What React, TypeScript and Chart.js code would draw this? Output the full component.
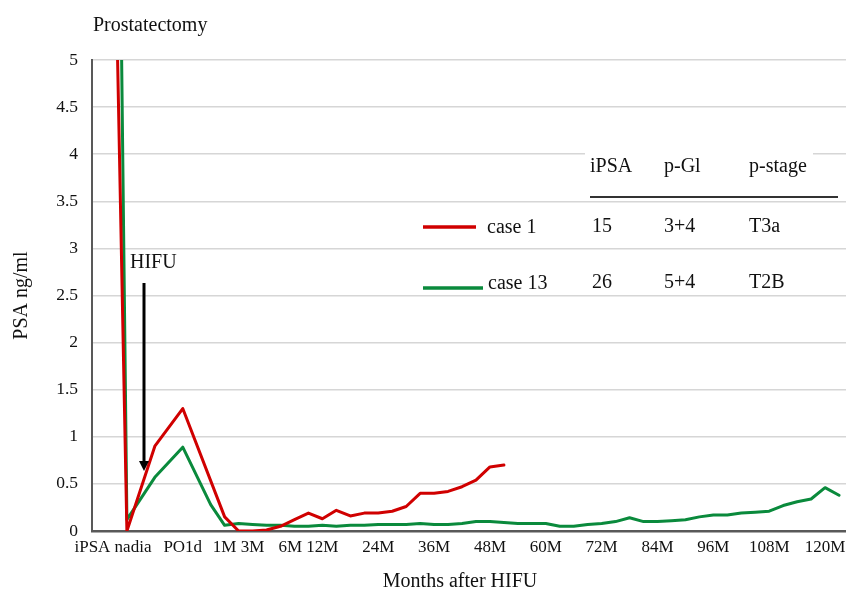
import React, { useEffect, useRef } from "react";
import { Chart, registerables } from "chart.js";

Chart.register(...registerables);

// ---- data ----
const slotCount = 54;
const tickLabels = ["iPSA nadia", "PO1d", "1M 3M", "6M 12M", "24M", "36M", "48M", "60M", "72M", "84M", "96M", "108M", "120M"];
const tickLabelSlots = [1, 6, 10, 15, 20, 24, 28, 32, 36, 40, 44, 48, 52];

const case1Values: (number | null)[] = [
  15, null, 0, null, 0.9, null, 1.3, null, null, 0.15,
  0, 0, 0.01, 0.05, 0.12, 0.19, 0.13, 0.22, 0.16, 0.19,
  0.19, 0.21, 0.26, 0.4, 0.4, 0.42, 0.47, 0.54, 0.68, 0.7,
];

const case13Values: (number | null)[] = [
  26, null, 0.12, null, 0.57, null, 0.89, null, 0.28, 0.06,
  0.08, 0.07, 0.06, 0.06, 0.05, 0.05, 0.06, 0.05, 0.06, 0.06,
  0.07, 0.07, 0.07, 0.08, 0.07, 0.07, 0.08, 0.1, 0.1, 0.09,
  0.08, 0.08, 0.08, 0.05, 0.05, 0.07, 0.08, 0.1, 0.14, 0.1,
  0.1, 0.11, 0.12, 0.15, 0.17, 0.17, 0.19, 0.2, 0.21, 0.27,
  0.31, 0.34, 0.46, 0.38,
];

const seriesNames = ["case 1", "case 13"];
const tableHeaders = ["iPSA", "p-Gl", "p-stage"];
const case1Table = ["15", "3+4", "T3a"];
const case13Table = ["26", "5+4", "T2B"];

const categories: string[] = Array.from({ length: slotCount }, () => "");
tickLabelSlots.forEach((slot, k) => {
  categories[slot] = tickLabels[k];
});

// ---- styles ----
const SERIF = "'Liberation Serif', 'Times New Roman', serif";
const TEXT = "#111111";
const RED = "#d00000";
const GREEN = "#0a8a3c";
const AXIS = "#595959";

const annotationPlugin = {
  id: "annotations",
  beforeDatasetsDraw(chart: any) {
    const ctx = chart.ctx as CanvasRenderingContext2D;
    // table header cell covering the gridline
    ctx.save();
    ctx.fillStyle = "#ffffff";
    ctx.fillRect(585, 150, 228, 8);
    ctx.restore();
  },
  afterDraw(chart: any) {
    const ctx = chart.ctx as CanvasRenderingContext2D;
    ctx.save();
    ctx.fillStyle = TEXT;
    ctx.textBaseline = "alphabetic";
    ctx.textAlign = "left";
    ctx.font = `20px ${SERIF}`;

    ctx.fillText("Prostatectomy", 93, 31);
    ctx.fillText("HIFU", 130, 268);

    // HIFU arrow
    ctx.strokeStyle = "#000";
    ctx.lineWidth = 3;
    ctx.beginPath();
    ctx.moveTo(144, 283);
    ctx.lineTo(144, 462);
    ctx.stroke();
    ctx.fillStyle = "#000";
    ctx.beginPath();
    ctx.moveTo(139, 461);
    ctx.lineTo(149, 461);
    ctx.lineTo(144, 471);
    ctx.closePath();
    ctx.fill();

    // x axis title
    ctx.fillStyle = TEXT;
    ctx.textAlign = "center";
    ctx.fillText("Months after HIFU", 460, 587);
    ctx.textAlign = "left";

    // legend / table
    ctx.lineCap = "butt";
    ctx.lineWidth = 3.5;
    ctx.strokeStyle = RED;
    ctx.beginPath();
    ctx.moveTo(423, 227);
    ctx.lineTo(476, 227);
    ctx.stroke();
    ctx.strokeStyle = GREEN;
    ctx.beginPath();
    ctx.moveTo(423, 288);
    ctx.lineTo(483, 288);
    ctx.stroke();

    ctx.fillStyle = TEXT;
    ctx.fillText(seriesNames[0], 487, 233);
    ctx.fillText(seriesNames[1], 488, 289);

    const colX = [590, 664, 749];
    tableHeaders.forEach((h, i) => ctx.fillText(h, colX[i], 172));
    case1Table.forEach((v, i) => ctx.fillText(v, colX[i] + (i === 0 ? 2 : 0), 232));
    case13Table.forEach((v, i) => ctx.fillText(v, colX[i] + (i === 0 ? 2 : 0), 288));

    ctx.strokeStyle = "#333";
    ctx.lineWidth = 2;
    ctx.beginPath();
    ctx.moveTo(590, 197);
    ctx.lineTo(838, 197);
    ctx.stroke();

    ctx.restore();
  },
};

export default function App() {
  const ref = useRef<HTMLCanvasElement>(null);

  useEffect(() => {
    document.body.style.margin = "0";
    const canvas = ref.current;
    if (!canvas) return;
    const chart = new Chart(canvas, {
      type: "line",
      data: {
        labels: categories,
        datasets: [
          {
            label: seriesNames[0],
            data: case1Values,
            borderColor: RED,
            backgroundColor: RED,
            borderWidth: 3,
            pointRadius: 0,
            tension: 0,
            spanGaps: true,
            borderJoinStyle: "round",
            borderCapStyle: "round",
          },
          {
            label: seriesNames[1],
            data: case13Values,
            borderColor: GREEN,
            backgroundColor: GREEN,
            borderWidth: 3,
            pointRadius: 0,
            tension: 0,
            spanGaps: true,
            borderJoinStyle: "round",
            borderCapStyle: "round",
          },
        ],
      },
      options: {
        responsive: false,
        animation: false,
        devicePixelRatio: 1,
        layout: { padding: { top: 60, left: 0, right: 0, bottom: 0 } },
        plugins: {
          legend: { display: false },
          tooltip: { enabled: false },
          title: { display: false },
        },
        scales: {
          x: {
            type: "category",
            offset: true,
            grid: { display: false, drawTicks: false },
            border: { display: true, color: AXIS, width: 2.5 },
            ticks: {
              autoSkip: false,
              maxRotation: 0,
              minRotation: 0,
              padding: 6,
              color: TEXT,
              font: { family: SERIF, size: 17 },
            },
            afterFit: (s: any) => {
              s.height = 61;
            },
          },
          y: {
            min: 0,
            max: 5,
            ticks: {
              stepSize: 0.5,
              padding: 14,
              color: TEXT,
              font: { family: SERIF, size: 17.5 },
              callback: (v: any) => String(v),
            },
            grid: { color: "#d6d6d6", lineWidth: 1.5, drawTicks: false },
            border: { display: true, color: AXIS, width: 2 },
            title: {
              display: true,
              text: "PSA ng/ml",
              color: TEXT,
              font: { family: SERIF, size: 20 },
              padding: { top: 10, bottom: 0 },
            },
            afterFit: (s: any) => {
              s.width = 92;
            },
          },
        },
      } as any,
      plugins: [annotationPlugin],
    });
    return () => chart.destroy();
  }, []);

  return (
    <div style={{ width: 846, height: 592 }}>
      <canvas ref={ref} width={846} height={592} style={{ display: "block" }} />
    </div>
  );
}
